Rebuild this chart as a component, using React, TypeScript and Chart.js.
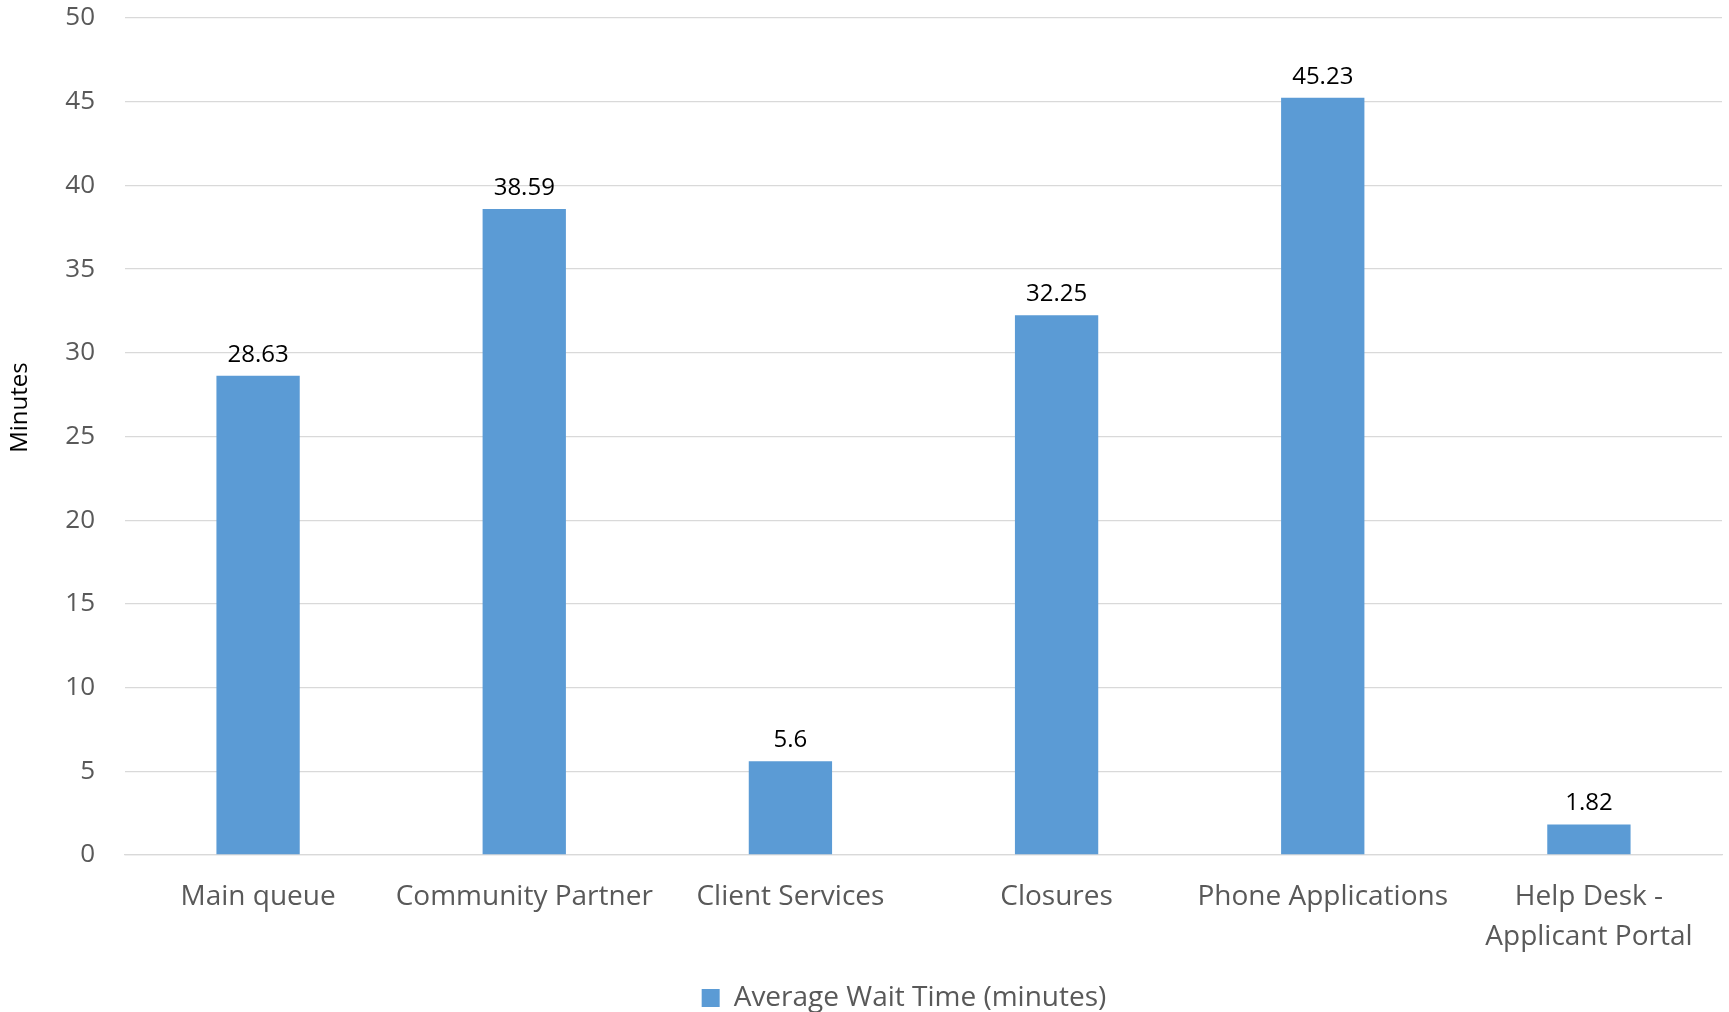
import React, { useEffect, useRef } from "react";
import { Chart, registerables } from "chart.js";

Chart.register(...registerables);

const categories: (string | string[])[] = [
  "Main queue",
  "Community Partner",
  "Client Services",
  "Closures",
  "Phone Applications",
  ["Help Desk -", "Applicant Portal"],
];
const waitTimes: number[] = [28.63, 38.59, 5.6, 32.25, 45.23, 1.82];
const seriesLabel = "Average Wait Time (minutes)";
const yAxisTitle = "Minutes";
const yMin = 0;
const yMax = 50;
const yStep = 5;

const FONT = "'Open Sans', 'DejaVu Sans', sans-serif";
const BAR_COLOR = "#5B9BD5";
const TEXT_GREY = "#595959";
const GRID = "#D9D9D9";

const dataLabelPlugin = {
  id: "dataLabels",
  afterDatasetsDraw(chart: any) {
    const ctx = chart.ctx;
    const meta = chart.getDatasetMeta(0);
    const ds = chart.data.datasets[0];
    ctx.save();
    ctx.font = `24px ${FONT}`;
    ctx.fillStyle = "#000000";
    ctx.textAlign = "center";
    ctx.textBaseline = "middle";
    meta.data.forEach((bar: any, i: number) => {
      ctx.fillText(String(ds.data[i]), bar.x, bar.y - 21);
    });
    ctx.restore();
  },
};

const axisTitlePlugin = {
  id: "axisTitle",
  afterDraw(chart: any) {
    const ctx = chart.ctx;
    const area = chart.chartArea;
    ctx.save();
    ctx.font = `24px ${FONT}`;
    ctx.fillStyle = "#000000";
    ctx.textAlign = "center";
    ctx.textBaseline = "middle";
    ctx.translate(20, (area.top + area.bottom) / 2 - 29);
    ctx.rotate(-Math.PI / 2);
    ctx.fillText(yAxisTitle, 0, 0);
    ctx.restore();
  },
};

const legendShiftPlugin = {
  id: "legendShift",
  afterLayout(chart: any) {
    const lg = chart.legend;
    if (lg) {
      lg.left += 43;
      lg.right += 43;
    }
  },
};

export default function App() {
  const canvasRef = useRef<HTMLCanvasElement | null>(null);

  useEffect(() => {
    document.body.style.margin = "0";
    const canvas = canvasRef.current;
    if (!canvas) return;
    const chart = new Chart(canvas, {
      type: "bar",
      data: {
        labels: categories,
        datasets: [
          {
            label: seriesLabel,
            data: waitTimes,
            backgroundColor: BAR_COLOR,
            borderWidth: 0,
            categoryPercentage: 1,
            barPercentage: 0.313,
          },
        ],
      },
      options: {
        responsive: false,
        animation: false,
        devicePixelRatio: 1,
        layout: { padding: { top: 18, right: 7, left: 0, bottom: -10 } },
        plugins: {
          legend: {
            position: "bottom",
            labels: {
              boxWidth: 18,
              boxHeight: 18,
              padding: 3,
              color: TEXT_GREY,
              font: { family: FONT, size: 28 },
            },
          },
          tooltip: { enabled: false },
        },
        scales: {
          x: {
            grid: { display: false, drawTicks: false },
            border: { display: true, color: GRID, width: 1.3 },
            ticks: {
              color: TEXT_GREY,
              font: { family: FONT, size: 28, lineHeight: 1.43 },
              padding: 22,
              maxRotation: 0,
              minRotation: 0,
              autoSkip: false,
            },
            afterFit: (scale: any) => {
              scale.height = 126;
            },
          },
          y: {
            min: yMin,
            max: yMax,
            grid: { color: GRID, lineWidth: 1.3, drawTicks: false },
            border: { display: false },
            ticks: {
              stepSize: yStep,
              color: TEXT_GREY,
              font: { family: FONT, size: 26 },
              padding: 30,
            },
            afterFit: (scale: any) => {
              scale.width = 125;
              scale.paddingTop = 0;
              scale.paddingBottom = 0;
            },
          },
        },
      },
      plugins: [dataLabelPlugin, axisTitlePlugin, legendShiftPlugin],
    });
    return () => chart.destroy();
  }, []);

  return (
    <div style={{ width: 1729, height: 1012, background: "#fff" }}>
      <canvas ref={canvasRef} width={1729} height={1012} />
    </div>
  );
}
